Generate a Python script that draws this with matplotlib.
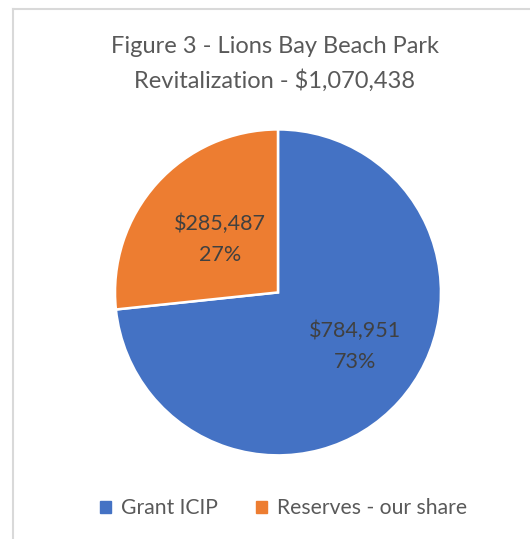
import matplotlib.pyplot as plt
from matplotlib.patches import Rectangle
from matplotlib.lines import Line2D

# data
labels = ["Grant ICIP", "Reserves - our share"]
values = [784951, 285487]
colors = ["#4472C4", "#ED7D31"]
title = "Figure 3 - Lions Bay Beach Park\nRevitalization - $1,070,438"

plt.rcParams['font.family'] = ['Lato', 'DejaVu Sans']

fig = plt.figure(figsize=(5.30, 5.39), dpi=100)
ax = fig.add_axes([0.217, 0.155, 0.615, 0.605])

total = sum(values)


def fmt(pct):
    val = pct * total / 100
    return "${:,.0f}\n{:.0f}%".format(val, pct)


wedges, texts, autotexts = ax.pie(
    values, colors=colors, startangle=90, counterclock=False,
    autopct=fmt, pctdistance=0.57,
    wedgeprops=dict(edgecolor="white", linewidth=1.8),
    textprops=dict(color="#404040", fontsize=15.5, linespacing=1.65),
)
ax.set_xlim(-1, 1)
ax.set_ylim(-1, 1)
ax.set_aspect("equal")

# nudge labels to where Excel puts them
for t, (dx, dy) in zip(autotexts, [(0.05, 0.05), (0.07, -0.055)]):
    x, y = t.get_position()
    t.set_position((x + dx, y + dy))

fig.text(0.518, 0.882, title, ha="center", va="center", fontsize=17,
         color="#595959", linespacing=1.65)

# legend
handles = [Rectangle((0, 0), 1, 1, color=c) for c in colors]
fig.legend(handles, labels, loc="center", bbox_to_anchor=(0.535, 0.057),
           ncol=2, frameon=False, fontsize=15.2, labelcolor="#595959",
           handlelength=0.5, handleheight=0.5, handletextpad=0.45,
           columnspacing=1.85)

# chart border (cropped at right/bottom)
fig.add_artist(Line2D([13 / 530, 13 / 530], [0, 1 - 9 / 539],
                      color="#D9D9D9", lw=1.5, transform=fig.transFigure))
fig.add_artist(Line2D([13 / 530, 1], [1 - 9 / 539, 1 - 9 / 539],
                      color="#D9D9D9", lw=1.5, transform=fig.transFigure))

fig.savefig("out.png", dpi=100)
